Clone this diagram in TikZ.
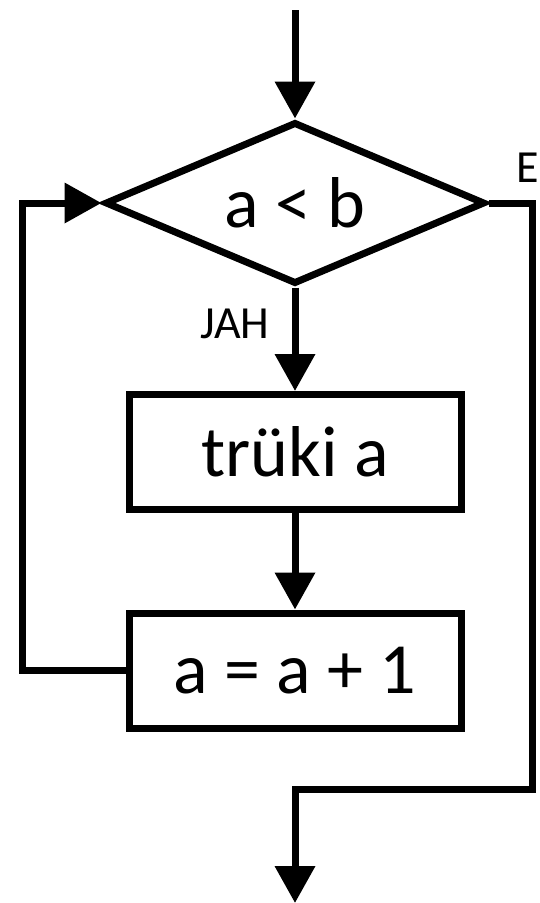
\documentclass[tikz,border=0pt]{standalone}
\usepackage{fontspec}
\setmainfont{Carlito}
\usetikzlibrary{shapes.geometric,arrows.meta}

\begin{document}
\begin{tikzpicture}[x=1pt,y=-1pt,line width=7pt,
  box/.style={draw,rectangle,minimum width=332pt,minimum height=115pt,inner sep=0pt,font=\fontsize{72}{72}\selectfont},
  flow/.style={-{Triangle[width=39pt,length=37pt]}},
  tag/.style={font=\fontsize{46}{46}\selectfont}]
  \useasboundingbox (0,0) rectangle (540,903);
  \coordinate (start) at (295,10);
  \coordinate (end) at (295,903);
  \coordinate (loopcorner) at (22,203);
  \node[diamond,draw,aspect=2.35,minimum width=380pt,minimum height=162pt,inner sep=0pt,font=\fontsize{72}{72}\selectfont] (cond) at (295,203) {a < b};
  \node[box] (print) at (295,452) {trüki a};
  \node[box] (inc) at (295,670.5) {a = a + 1};
  \node[tag] (yes) at (235,324) {JAH};
  \node[tag] (no) at (528,168) {E};
  \draw[flow] (start) -- (cond.north);
  \draw[flow] (cond.south) -- (print.north);
  \draw[flow] (print) -- (inc);
  \draw[flow] (inc.west) -| (loopcorner) -- (cond.west);
  \draw[flow] (cond.east) -| (532,789) -| (end);
\end{tikzpicture}
\end{document}
